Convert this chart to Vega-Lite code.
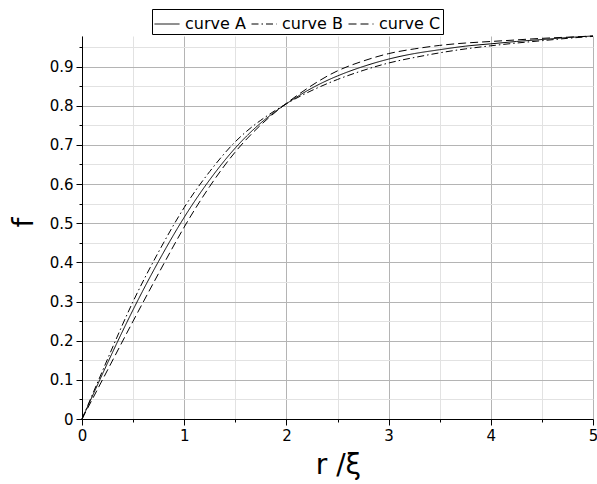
{
  "$schema": "https://vega.github.io/schema/vega-lite/v6.json",
  "width": 511,
  "height": 383,
  "autosize": {"type": "none"},
  "padding": {"left": 82, "top": 36, "right": 4, "bottom": 65},
  "config": {
    "view": {"stroke": null},
    "font": "DejaVu Sans",
    "axis": {"labelFont": "DejaVu Sans", "titleFont": "DejaVu Sans", "labelColor": "black", "titleColor": "black", "titleFontWeight": "normal", "labelFlush": false}
  },
  "data": {
    "values": [
      {"r": 0, "f": 0, "curve": "curve A"},
      {"r": 0.25, "f": 0.143, "curve": "curve A"},
      {"r": 0.5, "f": 0.279, "curve": "curve A"},
      {"r": 0.75, "f": 0.403, "curve": "curve A"},
      {"r": 1.0, "f": 0.515, "curve": "curve A"},
      {"r": 1.25, "f": 0.611, "curve": "curve A"},
      {"r": 1.5, "f": 0.692, "curve": "curve A"},
      {"r": 1.75, "f": 0.756, "curve": "curve A"},
      {"r": 2.0, "f": 0.805, "curve": "curve A"},
      {"r": 2.25, "f": 0.845, "curve": "curve A"},
      {"r": 2.5, "f": 0.876, "curve": "curve A"},
      {"r": 2.75, "f": 0.900, "curve": "curve A"},
      {"r": 3.0, "f": 0.919, "curve": "curve A"},
      {"r": 3.25, "f": 0.933, "curve": "curve A"},
      {"r": 3.5, "f": 0.943, "curve": "curve A"},
      {"r": 3.75, "f": 0.952, "curve": "curve A"},
      {"r": 4.0, "f": 0.958, "curve": "curve A"},
      {"r": 4.25, "f": 0.964, "curve": "curve A"},
      {"r": 4.5, "f": 0.969, "curve": "curve A"},
      {"r": 4.75, "f": 0.974, "curve": "curve A"},
      {"r": 5.0, "f": 0.978, "curve": "curve A"},
      {"r": 0, "f": 0, "curve": "curve B"},
      {"r": 0.25, "f": 0.153, "curve": "curve B"},
      {"r": 0.5, "f": 0.300, "curve": "curve B"},
      {"r": 0.75, "f": 0.427, "curve": "curve B"},
      {"r": 1.0, "f": 0.540, "curve": "curve B"},
      {"r": 1.25, "f": 0.632, "curve": "curve B"},
      {"r": 1.5, "f": 0.708, "curve": "curve B"},
      {"r": 1.75, "f": 0.763, "curve": "curve B"},
      {"r": 2.0, "f": 0.805, "curve": "curve B"},
      {"r": 2.25, "f": 0.839, "curve": "curve B"},
      {"r": 2.5, "f": 0.867, "curve": "curve B"},
      {"r": 2.75, "f": 0.890, "curve": "curve B"},
      {"r": 3.0, "f": 0.909, "curve": "curve B"},
      {"r": 3.25, "f": 0.923, "curve": "curve B"},
      {"r": 3.5, "f": 0.935, "curve": "curve B"},
      {"r": 3.75, "f": 0.945, "curve": "curve B"},
      {"r": 4.0, "f": 0.953, "curve": "curve B"},
      {"r": 4.25, "f": 0.960, "curve": "curve B"},
      {"r": 4.5, "f": 0.966, "curve": "curve B"},
      {"r": 4.75, "f": 0.972, "curve": "curve B"},
      {"r": 5.0, "f": 0.977, "curve": "curve B"},
      {"r": 0, "f": 0, "curve": "curve C"},
      {"r": 0.25, "f": 0.125, "curve": "curve C"},
      {"r": 0.5, "f": 0.250, "curve": "curve C"},
      {"r": 0.75, "f": 0.372, "curve": "curve C"},
      {"r": 1.0, "f": 0.490, "curve": "curve C"},
      {"r": 1.25, "f": 0.594, "curve": "curve C"},
      {"r": 1.5, "f": 0.682, "curve": "curve C"},
      {"r": 1.75, "f": 0.751, "curve": "curve C"},
      {"r": 2.0, "f": 0.806, "curve": "curve C"},
      {"r": 2.25, "f": 0.852, "curve": "curve C"},
      {"r": 2.5, "f": 0.889, "curve": "curve C"},
      {"r": 2.75, "f": 0.914, "curve": "curve C"},
      {"r": 3.0, "f": 0.933, "curve": "curve C"},
      {"r": 3.25, "f": 0.945, "curve": "curve C"},
      {"r": 3.5, "f": 0.954, "curve": "curve C"},
      {"r": 3.75, "f": 0.960, "curve": "curve C"},
      {"r": 4.0, "f": 0.964, "curve": "curve C"},
      {"r": 4.25, "f": 0.968, "curve": "curve C"},
      {"r": 4.5, "f": 0.972, "curve": "curve C"},
      {"r": 4.75, "f": 0.975, "curve": "curve C"},
      {"r": 5.0, "f": 0.978, "curve": "curve C"}
    ]
  },
  "layer": [
    {
      "mark": {"type": "line", "opacity": 0},
      "encoding": {
        "x": {
          "field": "r", "type": "quantitative",
          "scale": {"domain": [0, 5], "nice": false},
          "axis": {"orient": "bottom", "values": [0.5, 1.5, 2.5, 3.5, 4.5], "grid": true, "gridColor": "#e2e2e2", "gridWidth": 1, "labels": false, "domain": false, "ticks": true, "tickSize": 3, "tickColor": "black", "title": null}
        },
        "y": {
          "field": "f", "type": "quantitative",
          "scale": {"domain": [0, 0.978], "nice": false, "zero": true},
          "axis": {"orient": "left", "values": [0.05, 0.15, 0.25, 0.35, 0.45, 0.55, 0.65, 0.75, 0.85, 0.95], "grid": true, "gridColor": "#e2e2e2", "gridWidth": 1, "labels": false, "domain": false, "ticks": true, "tickSize": 3, "tickColor": "black", "title": null}
        },
        "detail": {"field": "curve"}
      }
    },
    {
      "mark": {"type": "line", "color": "black", "strokeWidth": 1, "interpolate": "natural"},
      "encoding": {
        "x": {
          "field": "r", "type": "quantitative",
          "axis": {"orient": "bottom", "values": [0, 1, 2, 3, 4, 5], "format": "~g", "grid": true, "gridColor": "#b4b4b4", "gridWidth": 1, "domain": true, "domainColor": "black", "domainWidth": 1, "tickSize": 6, "tickColor": "black", "labelFontSize": 15, "labelPadding": 3, "labelFlush": false, "title": "r /ξ", "titleFontSize": 28, "titleX": 256, "titleY": 54, "titleBaseline": "alphabetic", "titleAlign": "center"}
        },
        "y": {
          "field": "f", "type": "quantitative",
          "axis": {"orient": "left", "values": [0, 0.1, 0.2, 0.3, 0.4, 0.5, 0.6, 0.7, 0.8, 0.9], "format": "~g", "grid": true, "gridColor": "#b4b4b4", "gridWidth": 1, "domain": true, "domainColor": "black", "domainWidth": 1, "tickSize": 6, "tickColor": "black", "labelFontSize": 15, "labelPadding": 3, "labelFlush": false, "title": "f", "titleFontSize": 28, "titleAngle": -90, "titleX": -50, "titleY": 186, "titleBaseline": "alphabetic", "titleAlign": "center"}
        },
        "strokeDash": {
          "field": "curve", "type": "nominal",
          "scale": {"domain": ["curve A", "curve B", "curve C"], "range": [[1, 0], [7, 3, 1.5, 3], [8, 4]]},
          "legend": {"orient": "none", "legendX": 70, "legendY": -27, "direction": "horizontal", "title": null, "symbolType": "stroke", "symbolSize": 625, "symbolStrokeWidth": 1, "symbolStrokeColor": "black", "labelFont": "DejaVu Sans", "labelFontSize": 16, "labelColor": "black", "strokeColor": "black", "fillColor": "white", "padding": 2, "columnPadding": 3, "labelOffset": 5, "cornerRadius": 0}
        }
      }
    }
  ],
  "resolve": {"axis": {"x": "independent", "y": "independent"}}
}
